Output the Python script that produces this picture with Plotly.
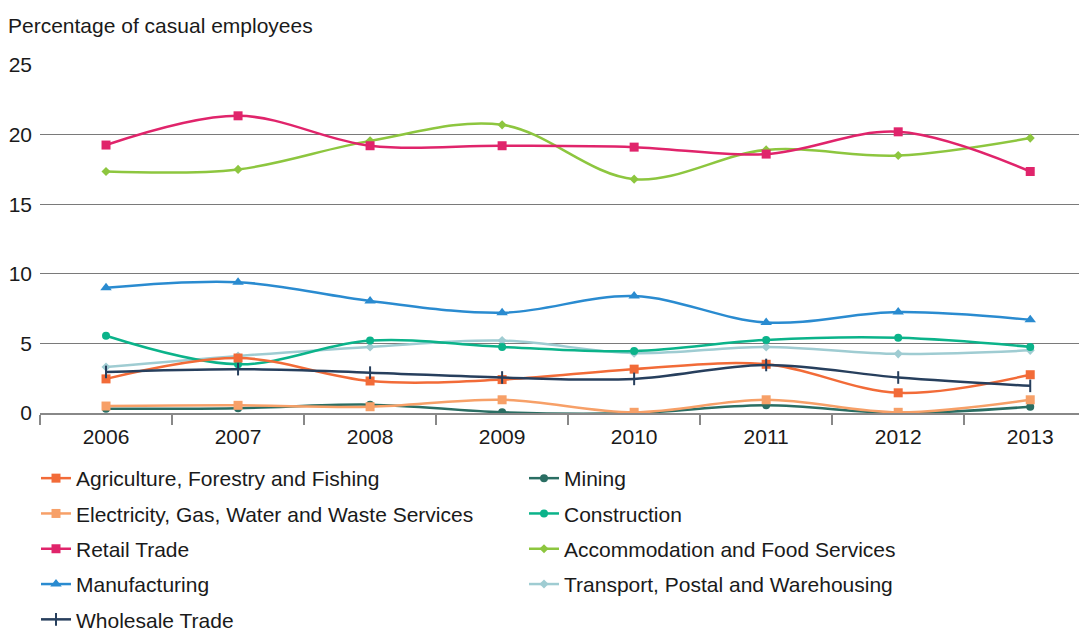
import plotly.graph_objects as go

years = ["2006", "2007", "2008", "2009", "2010", "2011", "2012", "2013"]

agriculture = [2.45, 3.95, 2.3, 2.4, 3.15, 3.5, 1.45, 2.75]
electricity = [0.5, 0.55, 0.45, 0.95, 0.05, 0.95, 0.05, 0.95]
retail = [19.25, 21.35, 19.2, 19.2, 19.1, 18.6, 20.2, 17.35]
manufacturing = [9.0, 9.4, 8.05, 7.2, 8.4, 6.5, 7.25, 6.7]
wholesale = [2.95, 3.15, 2.9, 2.55, 2.45, 3.45, 2.55, 1.95]
mining = [0.3, 0.35, 0.6, 0.05, 0.0, 0.55, 0.0, 0.45]
construction = [5.55, 3.5, 5.2, 4.75, 4.45, 5.25, 5.4, 4.75]
accommodation = [17.35, 17.5, 19.55, 20.7, 16.8, 18.9, 18.5, 19.75]
transport = [3.3, 4.1, 4.75, 5.2, 4.3, 4.75, 4.25, 4.5]

series = [
    ("Agriculture, Forestry and Fishing", agriculture, "#F26B38", "square", 9, "legend"),
    ("Electricity, Gas, Water and Waste Services", electricity, "#F7A068", "square", 9, "legend"),
    ("Retail Trade", retail, "#E0246B", "square", 9, "legend"),
    ("Manufacturing", manufacturing, "#2A8BD0", "triangle-up", 10, "legend"),
    ("Wholesale Trade", wholesale, "#273F5D", "line-ns-open", 9, "legend"),
    ("Mining", mining, "#2A6E63", "circle", 8, "legend2"),
    ("Construction", construction, "#0BB38A", "circle", 8, "legend2"),
    ("Accommodation and Food Services", accommodation, "#8DC63F", "diamond", 7, "legend2"),
    ("Transport, Postal and Warehousing", transport, "#9FCCD2", "diamond", 7, "legend2"),
]

fig = go.Figure()
draw_order = [8, 6, 0, 4, 3, 5, 1, 7, 2]
for i in draw_order:
    name, vals, col, sym, sz, lg = series[i]
    fig.add_trace(go.Scatter(
        x=years, y=vals, name=name, mode="lines+markers",
        line=dict(color=col, width=2.5, shape="spline", smoothing=1.0),
        marker=dict(symbol=sym, size=sz, color=col,
                    line=dict(color=col, width=2 if sym == "line-ns-open" else 0)),
        legend=lg, legendgroup=name, legendrank=i,
    ))

font_family = "Liberation Sans, Arial, sans-serif"
FS = 21
TXT = "#1a1a1a"
W, H = 1087, 630

fig.update_layout(
    width=W, height=H,
    margin=dict(l=32, r=8, t=57, b=225, autoexpand=False),
    paper_bgcolor="white", plot_bgcolor="white",
    font=dict(family=font_family, size=FS, color=TXT),
    showlegend=True,
    title=dict(
        text="Percentage of casual employees", xref="container", yref="container",
        x=0, y=1 - 18 / H, xanchor="left", yanchor="middle",
        pad=dict(l=0, t=0, b=0, r=0),
        font=dict(size=FS, color=TXT),
    ),
    xaxis=dict(
        type="category", range=[-0.5, 7.43], tickangle=0,
        tickson="boundaries", ticks="outside", ticklen=10, tickcolor="#888",
        tickwidth=1.5, showgrid=False, showline=True, linecolor="#888",
        linewidth=1.5, ticklabelstandoff=4, tickfont=dict(size=FS, color=TXT),
    ),
    yaxis=dict(
        range=[0, 25], tickvals=[0, 5, 10, 15, 20, 25], showgrid=True,
        gridcolor="#7a7a7a", gridwidth=1.2, zeroline=False, showline=False,
        ticks="", ticklabelstandoff=7, tickfont=dict(size=FS, color=TXT),
    ),
    legend=dict(
        xref="container", yref="container", x=28 / W, y=1 - 450 / H,
        xanchor="left", yanchor="top", orientation="v",
        tracegroupgap=5, font=dict(size=FS, color=TXT),
        itemwidth=30, bgcolor="rgba(0,0,0,0)",
    ),
    legend2=dict(
        xref="container", yref="container", x=516 / W, y=1 - 450 / H,
        xanchor="left", yanchor="top", orientation="v",
        tracegroupgap=5, font=dict(size=FS, color=TXT),
        itemwidth=30, bgcolor="rgba(0,0,0,0)",
    ),
)

fig.write_html("out.html")
